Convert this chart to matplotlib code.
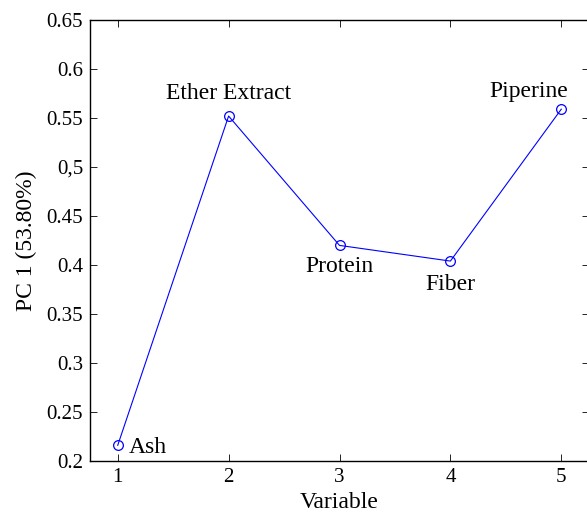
import matplotlib
matplotlib.use('Agg')
import matplotlib.pyplot as plt

# Dati
variables = [1, 2, 3, 4, 5]
pc1 = [0.216, 0.552, 0.420, 0.404, 0.559]
names = ['Ash', 'Ether Extract', 'Protein', 'Fiber', 'Piperine']
yticks = [0.2, 0.25, 0.3, 0.35, 0.4, 0.45, 0.5, 0.55, 0.6, 0.65]
ytick_labels = ['0.2', '0.25', '0.3', '0.35', '0.4', '0.45', '0,5', '0.55', '0.6', '0.65']

# Posizione etichette (offset in pixel)
label_offsets = [(11, -2), (0, 23), (0, -21), (0, -23), (-33, 18)]
label_ha = ['left', 'center', 'center', 'center', 'center']

plt.rcParams['font.family'] = ['Liberation Serif', 'DejaVu Serif']

fig = plt.figure(figsize=(5.87, 5.13), dpi=100)
ax = fig.add_axes([90 / 587, 52 / 513, 499 / 587, 441 / 513])

ax.plot(variables, pc1, color='blue', linewidth=0.8, marker='o',
        markersize=7, markerfacecolor='none', markeredgewidth=0.9)

for x, y, name, off, ha in zip(variables, pc1, names, label_offsets, label_ha):
    ax.annotate(name, (x, y), xytext=off, textcoords='offset pixels',
                ha=ha, va='center', fontsize=17)

ax.set_xlim(0.75, 5.25)
ax.set_ylim(0.2, 0.65)
ax.set_xticks(variables)
ax.set_yticks(yticks)
ax.set_yticklabels(ytick_labels)
ax.tick_params(direction='in', top=True, right=True, length=5, width=0.6,
               labelsize=15, pad=5)
for s in ax.spines.values():
    s.set_linewidth(1.0)

ax.set_xlabel('Variable', fontsize=17, labelpad=4)
ax.set_ylabel('PC 1 (53.80%)', fontsize=17, labelpad=7)

fig.savefig('out.png', dpi=100)
